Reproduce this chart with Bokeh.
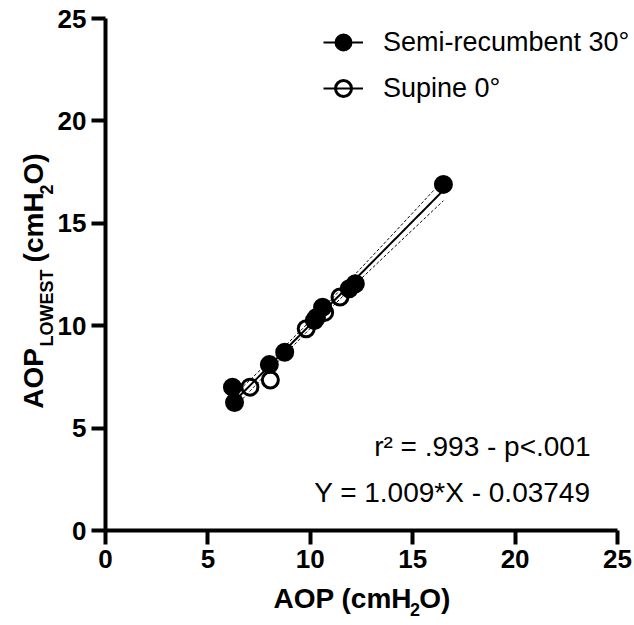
import numpy as np
from bokeh.plotting import figure
from bokeh.models import Range1d, FixedTicker, Label, Legend, LegendItem, LinearAxis
from bokeh.embed import file_html
from bokeh.resources import INLINE

# ---- data ----
semi_x = [6.2, 6.3, 8.0, 8.75, 10.2, 10.6, 11.9, 12.2, 16.5]
semi_y = [7.0, 6.25, 8.1, 8.7, 10.25, 10.9, 11.8, 12.05, 16.9]
supine_x = [7.05, 8.05, 9.8, 10.3, 10.7, 11.45]
supine_y = [7.0, 7.35, 9.85, 10.4, 10.65, 11.4]
SLOPE = 1.009
INTERCEPT = -0.03749
T95 = 2.16
ticks = [0, 5, 10, 15, 20, 25]
series_names = ["Semi-recumbent 30°", "Supine 0°"]
r2_text = "r² = .993 - p<.001"
eq_text = "Y = 1.009*X - 0.03749"

FONT = "Liberation Sans"
NB = "\u00a0"

W, H = 634, 625
L, B = 105, 95
PX = 20.48  # px per unit (layout)
x_end = (W - L) / PX
y_end = (H - B) / PX

p = figure(width=W, height=H, output_backend="svg", toolbar_location=None,
           x_range=Range1d(0, x_end), y_range=Range1d(0, y_end),
           min_border_left=L, min_border_right=0, min_border_top=0, min_border_bottom=B)
p.outline_line_color = None
p.xgrid.visible = False
p.ygrid.visible = False
p.background_fill_color = "white"
p.border_fill_color = "white"

for ax in (p.xaxis[0], p.yaxis[0]):
    ax.ticker = FixedTicker(ticks=ticks)
    ax.bounds = (ticks[0], ticks[-1])
    ax.axis_line_width = 4
    ax.axis_line_color = "black"
    ax.major_tick_line_width = 4
    ax.major_tick_line_color = "black"
    ax.major_tick_out = 14
    ax.major_tick_in = 0
    ax.minor_tick_line_color = None
    ax.minor_tick_out = 0
    ax.major_label_text_font = FONT
    ax.major_label_text_font_style = "bold"
    ax.major_label_text_font_size = "26px"
    ax.major_label_text_color = "black"
p.xaxis[0].major_label_standoff = 5
p.yaxis[0].major_label_standoff = 5


def title_axis(text, size, standoff, side):
    a = LinearAxis(ticker=FixedTicker(ticks=[]), axis_line_color=None,
                   major_tick_line_color=None, minor_tick_line_color=None,
                   major_tick_out=0, minor_tick_out=0, major_tick_in=0, minor_tick_in=0,
                   major_label_standoff=0, axis_label=text, axis_label_standoff=standoff,
                   axis_label_text_font=FONT, axis_label_text_font_style="bold",
                   axis_label_text_font_size=f"{size}px", axis_label_text_color="black")
    p.add_layout(a, side)
    return a

# x title: AOP (cmH2O) with subscript 2
title_axis("AOP (cmH" + NB + "O)" + NB * 2, 28, 12, "below")
title_axis(NB * 18 + "2", 18, -17, "below")
# y title: AOP_LOWEST (cmH2O)
title_axis("LOWEST" + NB * 15 + "2", 18, -2, "left")
title_axis("AOP" + NB * 10 + " (cmH" + NB + "O)" + NB * 4, 28, -15, "left")

# ---- regression line and 95% CI ----
ax_all = np.array(semi_x + supine_x)
ay_all = np.array(semi_y + supine_y)
n = len(ax_all)
resid = ay_all - (SLOPE * ax_all + INTERCEPT)
s = np.sqrt(np.sum(resid ** 2) / (n - 2))
xm = ax_all.mean()
sxx = np.sum((ax_all - xm) ** 2)
xg = np.linspace(ax_all.min(), ax_all.max(), 60)
yg = SLOPE * xg + INTERCEPT
half = T95 * s * np.sqrt(1.0 / n + (xg - xm) ** 2 / sxx)

reg = p.line(xg, yg, line_color="black", line_width=2)
p.line(xg, yg + half, line_color="black", line_width=1, line_dash="3 2")
p.line(xg, yg - half, line_color="black", line_width=1, line_dash="3 2")

semi = p.scatter(semi_x, semi_y, size=17, marker="circle", fill_color="black", line_color="black", line_width=2)
sup = p.scatter(supine_x, supine_y, size=16, marker="circle", fill_color=None, line_color="black", line_width=3)

legend = Legend(items=[LegendItem(label=series_names[0], renderers=[reg, semi]),
                       LegendItem(label=series_names[1], renderers=[reg, sup])],
                location=(218, 419), orientation="vertical",
                glyph_width=40, glyph_height=46, label_height=46, spacing=0,
                padding=0, margin=0, label_standoff=20,
                label_text_font=FONT, label_text_font_size="27px", label_text_color="black",
                border_line_color=None, background_fill_alpha=0)
p.add_layout(legend)

# ---- annotation texts (page px -> data) ----
FB = H - B
def dx(px):
    return (px - L) / PX
def dy(py):
    return (FB - py) / PX

p.add_layout(Label(x=dx(590), y=dy(446), text=r2_text, text_align="right", text_baseline="middle",
                   text_font=FONT, text_font_size="28px", text_color="black"))
p.add_layout(Label(x=dx(590), y=dy(492), text=eq_text, text_align="right", text_baseline="middle",
                   text_font=FONT, text_font_size="28px", text_color="black"))

open("out.html", "w").write(file_html(p, INLINE))
